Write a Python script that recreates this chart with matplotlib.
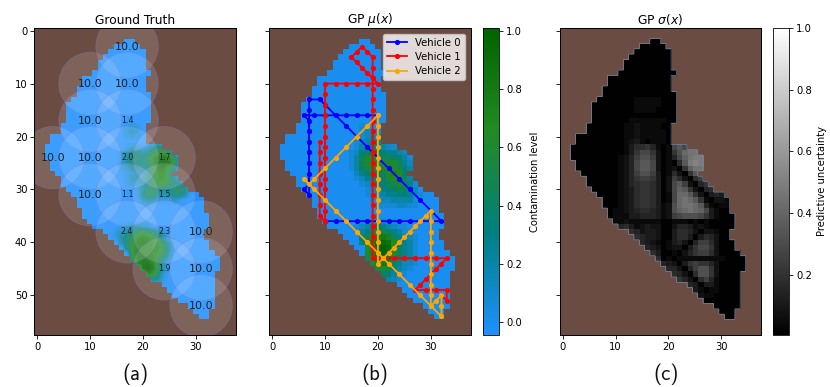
import numpy as np
import matplotlib
matplotlib.use("Agg")
import matplotlib.pyplot as plt
from matplotlib.colors import LinearSegmentedColormap
from matplotlib.patches import Circle

W, H = 830, 387
BROWN = "#6b4c43"

# water-body extent: first row, then first and last wet column of each row
FIRST_ROW = 2
ROW_LEFT = [17,15,14,13,12,12,11,9,9,8,8,7,6,6,6,6,5,5,3,3,2,2,2,3,3,4,5,5,6,7,8,8,9,9,10,11,13,14,15,16,17,18,19,20,21,22,24,25,26,27,29,30,31]
ROW_RIGHT = [18,19,20,20,20,20,21,20,20,20,21,21,21,21,21,21,20,20,20,20,23,25,26,26,26,25,26,27,28,30,31,31,31,32,32,32,31,31,32,32,33,34,34,34,33,33,33,33,33,33,33,32,32]

# ground truth, hex levels (f = 1.0), first char = column 14
GT_ROWS = {
18:"000121",19:"000232",20:"000121",
22:"000122124653",23:"001355458aa7",24:"00247657bdec7",25:"00246657bded8",
26:"001244469cc95",27:"000123359bb74",28:"000133359bb741",
29:"000122368aa7653",30:"0000014776557752",31:"000001587434664",32:"00000034411131",33:"00000001",
37:"00123322",38:"02345897642",39:"02468bcb973",40:"00469cdcba63",41:"00079cccbb84",
42:"0000acccba83",43:"00009cdcb852",44:"00000ceec73",45:"000000efd73",46:"0000000ca52",47:"00000000641",
}

# posterior mean, hex levels (f = 1.0), first char = column 14
MU_ROWS = {
18:"000110",19:"0001221",20:"00012321",21:"00123331",22:"001344432110",
23:"01256665443210",24:"01379987765310",25:"01379988997421",26:"01368888aa8531",
27:"00246667aba631",28:"001244569aa731",29:"00012345789741",30:"00001234567642",
31:"000011234455421",32:"000001122333311",33:"00000011112211",36:"00011222110",
37:"001234543211",38:"0013567764311",39:"000579bcb74321",40:"00069bdeda6431",
41:"0000abefea6431",42:"00009befe96431",43:"00007adec85331",44:"000008bcb64221",
45:"0000008985321",46:"000000065321",47:"00000000321",
}

# posterior std, hex levels, first char = column 10
SIGMA_ROWS = {
13:"0000111110",14:"0000111110",15:"0000111100",
17:"00011111110",18:"00112111100",19:"00112111110",20:"00112111110",21:"00123101110",
22:"00135564101"+"8a8",23:"00136886201"+"69cdd",24:"01247997201"+"48bdee",
25:"01248aa8201"+"05aefe",26:"01248aa8201"+"206bdd",27:"01247997301"+"5206a",
28:"01246776302"+"752057",29:"01245665302"+"8a72046",30:"01235665302"+"8ba62045",
31:"01235665301"+"8cca620343",32:"01235665301"+"8cdca610221",33:"01235665312"+"9cddca41011",
34:"11234554312"+"9bcdcb831",35:"11133444312"+"789998631",36:"11211111100"+"1110101",
37:"04531232200"+"24431210",38:"00054233200"+"355420221",39:"00005433200"+"355303542",
40:"00000432101"+"342047752",41:"00000043201"+"220368862",42:"00000005300"+"102467752",
43:"00000000501"+"0111111111",44:"00000000043"+"203676642",45:"00000000004"+"420479962",
46:"00000000000"+"542059962",47:"00000000000"+"064205741",48:"00000000000"+"000430331",
49:"00000000000"+"000031011",50:"00000000000"+"00000211",
}

# sample sites and their readings
SITE_X = [17,10,17,10,17,3,10,17,24,10,17,24,17,24,31,24,31,31]
SITE_Y = [3,10,10,17,17,24,24,24,24,31,31,31,38,38,38,45,45,52]
SITE_V = [10.0,10.0,10.0,10.0,1.4,10.0,10.0,2.0,1.7,10.0,1.1,1.5,2.4,2.3,10.0,1.9,10.0,10.0]

V0_X = [10,12,14,16,18,20,22,24,26,28,30,32,30,28,26,24,22,20,18,16,14,12,10,9,7,7,7,7,7,7,7,7,7,7,6,7,7,7,7,7,7,7,6,8,10,12,14,16,18,20]
V0_Y = [36,36,36,36,36,36,36,36,36,36,36,36,34,32,30,28,26,24,22,20,18,16,14,13,13,15,17,19,21,23,25,27,29,31,30,29,27,25,23,21,19,17,16,16,16,16,16,16,16,16]
V1_X = [9,9,9,9,9,9,9,9,10,10,10,10,10,10,10,10,10,10,10,10,10,10,12,14,16,18,20,19,18,17,16,15,16,17,18,19,19,19,19,19,19,19,19,19,19,19,19,19,19,19,19,19,19,19,19,21,23,25,27,29,31,33,32,31,30,29,28,27,29,31,33,33,32]
V1_Y = [21,23,25,27,29,31,33,35,36,34,32,30,28,26,24,22,20,18,16,14,12,10,10,10,10,10,10,9,8,7,6,5,4,3,4,5,7,9,11,13,15,17,19,21,23,25,27,29,31,33,35,37,39,41,43,43,43,43,43,43,43,43,44,45,46,47,48,49,49,49,49,51,50]
V2_X = [20,20,20,20,20,20,20,20,20,20,20,20,20,20,20,21,22,23,24,25,26,27,28,29,30,30,30,30,30,30,30,30,30,30,31,32,32,32,30,28,26,24,22,20,18,16,14,12,10,8,6,7,8,10,12,14,16,18,20]
V2_Y = [16,18,20,22,24,26,28,30,32,34,36,38,40,42,44,43,42,41,40,39,38,37,36,35,34,36,38,40,42,44,46,48,50,52,51,50,52,54,52,50,48,46,44,42,40,38,36,34,32,30,28,29,28,26,24,22,20,18,16]

TICKS = [0,10,20,30,40,50]
XTICKS = [0,10,20,30]

plt.rcParams.update({"font.family":"DejaVu Sans","font.size":7,"mathtext.fontset":"dejavusans",
    "axes.linewidth":0.7,"xtick.major.size":2.6,"ytick.major.size":2.6,"xtick.major.width":0.6,"ytick.major.width":0.6,
    "xtick.major.pad":2.4,"ytick.major.pad":2.4})

def build_mask():
    m = np.zeros((58,38),bool)
    for i,(l,r) in enumerate(zip(ROW_LEFT,ROW_RIGHT)):
        m[FIRST_ROW+i,l:r+1] = True
    return m

def build_field(rows, start, scale):
    f = np.zeros((58,38))
    for r,s in rows.items():
        for k,ch in enumerate(s):
            f[r,start+k] = int(ch,16)*scale
    return f

def px_axes(l,t,r,b):
    return fig.add_axes([l/W,1-b/H,(r-l)/W,(b-t)/H])

mask = build_mask()
gt = build_field(GT_ROWS,14,1/15)
mu = build_field(MU_ROWS,14,1/15)
sigma = build_field(SIGMA_ROWS,10,0.034)+0.01

cont = LinearSegmentedColormap.from_list("cont",["dodgerblue","teal","forestgreen","darkgreen"])
land = np.zeros((58,38,4)); land[...] = matplotlib.colors.to_rgba(BROWN); land[mask,3] = 0

fig = plt.figure(figsize=(W/100,H/100),dpi=100)
ax1 = px_axes(34,28,236,335)
ax2 = px_axes(269,28,471,335)
ax3 = px_axes(559,28,762,335)
cax2 = px_axes(483,28,499,335)
cax3 = px_axes(773,28,789,335)

VMIN,VMAX = -0.045,1.01
ax1.imshow(gt,cmap=cont,vmin=0,vmax=1,interpolation="bilinear")
ax1.imshow(land,interpolation="nearest")
for x,y,v in zip(SITE_X,SITE_Y,SITE_V):
    ax1.add_patch(Circle((x,y),5.9,facecolor=(1,1,1,0.13),edgecolor=(0.55,0.45,0.85,0.3),lw=0.7))
    ax1.text(x,y,f"{v:.1f}",ha="center",va="center",color="#222222",fontsize=8 if v>=10 else 5.6)
ax1.set_title("Ground Truth",fontsize=8.8,pad=3.2)

im2 = ax2.imshow(np.where(mask,mu,np.nan),cmap=cont,vmin=VMIN,vmax=VMAX,interpolation="nearest")
ax2.imshow(land,interpolation="nearest")
style = dict(marker="o",ms=2.7,lw=1.3)
ax2.plot(V0_X,V0_Y,color="blue",label="Vehicle 0",**style)
ax2.plot(V1_X,V1_Y,color="red",label="Vehicle 1",**style)
ax2.plot(V2_X,V2_Y,color="orange",label="Vehicle 2",**style)
ax2.set_xlim(-0.5,37.5); ax2.set_ylim(57.5,-0.5)
ax2.legend(loc="upper right",fontsize=7.3,borderaxespad=0.55,handlelength=2.0,borderpad=0.4,labelspacing=0.42,handletextpad=0.8,framealpha=0.8)
ax2.set_title(r"GP $\mu(x)$",fontsize=8.8,pad=3.2)
cb2 = fig.colorbar(im2,cax=cax2)
cb2.set_ticks([0,0.2,0.4,0.6,0.8,1.0])
cb2.set_label("Contamination level",fontsize=7.2,labelpad=6)

im3 = ax3.imshow(np.where(mask,sigma,np.nan),cmap="gray",vmin=0.005,vmax=1.0,interpolation="nearest")
ax3.imshow(land,interpolation="nearest")
fine = np.kron(mask.astype(float),np.ones((8,8)))
ax3.contour(np.linspace(-0.5,37.5,fine.shape[1]),np.linspace(-0.5,57.5,fine.shape[0]),fine,[0.5],colors=["#6f8fb0"],linewidths=0.45)
ax3.set_xlim(-0.5,37.5); ax3.set_ylim(57.5,-0.5)
ax3.set_title(r"GP $\sigma(x)$",fontsize=8.8,pad=3.2)
cb3 = fig.colorbar(im3,cax=cax3)
cb3.set_ticks([0.2,0.4,0.6,0.8,1.0])
cb3.set_label("Predictive uncertainty",fontsize=7.2,labelpad=4)

for ax in (ax1,ax2,ax3):
    ax.set_xticks(XTICKS); ax.set_yticks(TICKS)
    ax.tick_params(labelsize=7.2)
ax2.set_yticklabels([]); ax3.set_yticklabels([])
for c in (cax2,cax3):
    c.tick_params(labelsize=7.2)
    for s in c.spines.values(): s.set_linewidth(0.6)

for x,label in zip((135,375,666),("(a)","(b)","(c)")):
    fig.text(x/W,1-374/H,label,ha="center",va="center",fontsize=15,family="cmss10",color="#111111")

fig.savefig("out.png",dpi=100)
